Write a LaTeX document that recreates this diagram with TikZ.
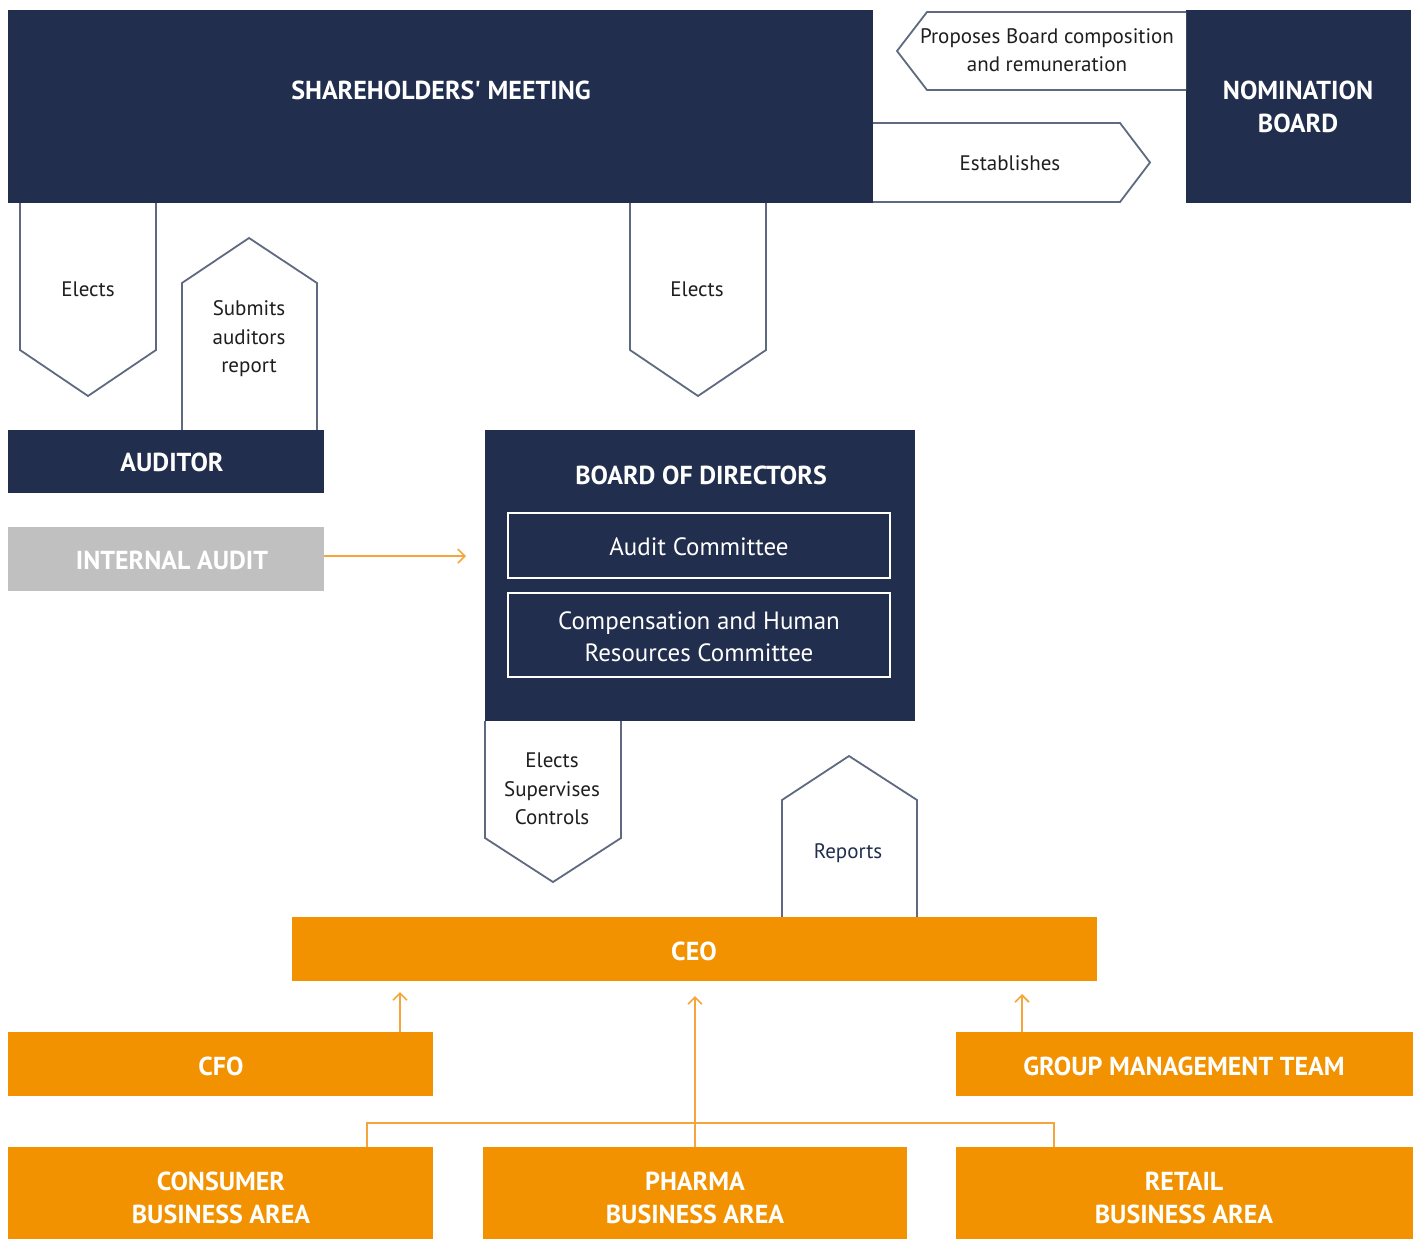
\documentclass[tikz,border=0pt]{standalone}
\usepackage{fontspec}
\setmainfont{PT Sans}
\usetikzlibrary{arrows.meta}
\definecolor{navy}{RGB}{33,46,77}
\definecolor{orng}{RGB}{243,146,0}
\definecolor{lorng}{RGB}{246,165,60}
\definecolor{gry}{RGB}{192,192,192}
\definecolor{outl}{RGB}{95,105,128}
\definecolor{txt}{RGB}{30,30,30}
\newcommand{\straightq}{{\addfontfeatures{Ligatures=TeXOff}'}}
\tikzset{
  blk/.style={inner sep=0pt, outer sep=0pt, draw=none},
  navybox/.style={blk, fill=navy},
  orbox/.style={blk, fill=orng},
  title/.style={text=white, font=\bfseries\fontsize{26}{33}\selectfont, align=center, inner sep=0pt},
  ortitle/.style={text=white, font=\bfseries\fontsize{26}{33}\selectfont, align=center, inner sep=0pt},
  lbl/.style={text=txt, font=\fontsize{21}{28.5}\selectfont, align=center, inner sep=0pt},
  arrshape/.style={draw=outl, line width=1.8pt, fill=white, line join=miter},
  com/.style={draw=white, line width=2pt, inner sep=0pt, outer sep=0pt},
  comtxt/.style={text=white, font=\fontsize{25}{32}\selectfont, align=center, inner sep=0pt},
  link/.style={draw=lorng, line width=1.6pt},
  tipend/.style={-{Straight Barb[length=7pt,width=14pt,line width=1.6pt]}}
}
\begin{document}
\begin{tikzpicture}[x=1pt,y=-1pt]
\useasboundingbox (0,0) rectangle (1415,1239);
\fill[white] (0,0) rectangle (1415,1239);

% boxes
\node[navybox, minimum width=865pt, minimum height=193pt] (sm) at (440.5,106.5) {};
\node[title] (smt) at (441,90) {SHAREHOLDERS\straightq\ MEETING};
\node[navybox, minimum width=225pt, minimum height=193pt] (nb) at (1298.5,106.5) {};
\node[title] (nbt) at (1298,107) {NOMINATION\\BOARD};

% proposes (left pointing)
\draw[arrshape] (1186,12) -- (927,12) -- (897,51) -- (927,90) -- (1186,90);
\node[lbl] (prop) at (1047,50) {Proposes Board composition\\and remuneration};
% establishes (right pointing)
\draw[arrshape] (873,123) -- (1120,123) -- (1150,162.5) -- (1120,202) -- (873,202);
\node[lbl] (est) at (1010,163) {Establishes};

% elects left
\draw[arrshape] (20,203) -- (20,350) -- (88,396) -- (156,350) -- (156,203);
\node[lbl] (el1) at (88,289) {Elects};
% submits
\draw[arrshape] (182,430) -- (182,283) -- (249,238) -- (317,283) -- (317,430);
\node[lbl] (sub) at (249,339) {Submits\\auditors\\report};
% elects middle
\draw[arrshape] (630,203) -- (630,350) -- (698,396) -- (766,350) -- (766,203);
\node[lbl] (el2) at (697,289) {Elects};

\node[navybox, minimum width=316pt, minimum height=63pt] (aud) at (166,461.5) {};
\node[title] (audt) at (172,462) {AUDITOR};
\node[blk, fill=gry, minimum width=316pt, minimum height=64pt] (ia) at (166,559) {};
\node[title] (iat) at (172,560) {INTERNAL AUDIT};

% board
\node[navybox, minimum width=430pt, minimum height=291pt] (bod) at (700,575.5) {};
\node[title] (bodt) at (701,475) {BOARD OF DIRECTORS};
\node[com, minimum width=382pt, minimum height=65pt] (ac) at (699,545.5) {};
\node[comtxt] (act) at (699,547) {Audit Committee};
\node[com, minimum width=382pt, minimum height=84pt] (cc) at (699,635) {};
\node[comtxt] (cct) at (699,637) {Compensation and Human\\Resources Committee};

\coordinate (iaend) at (466,556);
\draw[link, tipend] (ia.east |- iaend) -- (iaend);

% elects supervises controls
\draw[arrshape] (485,721) -- (485,838) -- (553,882) -- (621,838) -- (621,721);
\node[lbl] (esc) at (552,789) {Elects\\Supervises\\Controls};
% reports
\draw[arrshape] (782,917) -- (782,800) -- (849,756) -- (917,800) -- (917,917);
\node[lbl, text=navy] (rep) at (848,853) {Reports};

% CEO etc
\node[orbox, minimum width=805pt, minimum height=64pt] (ceo) at (694.5,949) {};
\node[ortitle] (ceot) at (694,951) {CEO};
\node[orbox, minimum width=425pt, minimum height=64pt] (cfo) at (220.5,1064) {};
\node[ortitle] (cfot) at (221,1066) {CFO};
\node[orbox, minimum width=457pt, minimum height=64pt] (gmt) at (1184.5,1064) {};
\node[ortitle] (gmtt) at (1184,1066) {GROUP MANAGEMENT TEAM};
\node[orbox, minimum width=425pt, minimum height=92pt] (con) at (220.5,1193) {};
\node[ortitle] (cont) at (221,1198) {CONSUMER\\BUSINESS AREA};
\node[orbox, minimum width=424pt, minimum height=92pt] (pha) at (695,1193) {};
\node[ortitle] (phat) at (695,1198) {PHARMA\\BUSINESS AREA};
\node[orbox, minimum width=457pt, minimum height=92pt] (ret) at (1184.5,1193) {};
\node[ortitle] (rett) at (1184,1198) {RETAIL\\BUSINESS AREA};

% orange links
\coordinate (c1) at (400,992);
\coordinate (c2) at (695,996);
\coordinate (c3) at (1022,994);
\draw[link, tipend] (cfo.north -| c1) -- (c1);
\draw[link, tipend] (pha.north -| c2) -- (c2);
\draw[link, tipend] (gmt.north -| c3) -- (c3);
\coordinate (h1) at (367,1123);
\coordinate (h2) at (1054,1123);
\draw[link] (con.north -| h1) -- (h1) -- (h2) -- (ret.north -| h2);
\end{tikzpicture}
\end{document}
